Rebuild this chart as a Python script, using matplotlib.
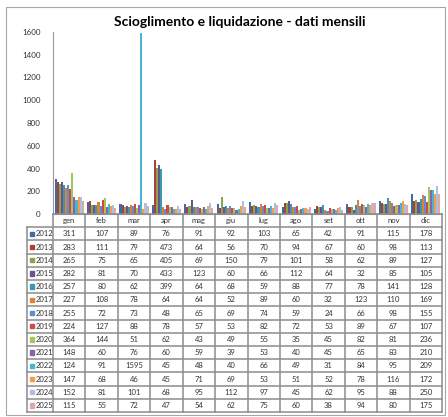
import matplotlib.pyplot as plt
from matplotlib.patches import Rectangle

plt.rcParams['font.family'] = ['Lato', 'DejaVu Sans']

months = ['gen', 'feb', 'mar', 'apr', 'mag', 'giu', 'lug', 'ago', 'set', 'ott', 'nov', 'dic']
years = ['2012', '2013', '2014', '2015', '2016', '2017', '2018',
         '2019', '2020', '2021', '2022', '2023', '2024', '2025']

v2012 = [311, 107, 89, 76, 91, 92, 103, 65, 42, 91, 115, 178]
v2013 = [283, 111, 79, 473, 64, 56, 70, 94, 67, 60, 98, 113]
v2014 = [265, 75, 65, 405, 69, 150, 79, 101, 58, 62, 89, 127]
v2015 = [282, 81, 70, 433, 123, 60, 66, 112, 64, 32, 85, 105]
v2016 = [257, 80, 62, 399, 64, 68, 59, 88, 77, 78, 141, 128]
v2017 = [227, 108, 78, 64, 64, 52, 89, 60, 32, 123, 110, 169]
v2018 = [255, 72, 73, 48, 65, 69, 74, 59, 24, 66, 98, 155]
v2019 = [224, 127, 88, 78, 57, 53, 82, 72, 53, 89, 67, 107]
v2020 = [364, 144, 51, 62, 43, 49, 55, 35, 45, 82, 81, 236]
v2021 = [148, 60, 76, 60, 59, 39, 53, 40, 45, 65, 83, 210]
v2022 = [124, 91, 1595, 45, 48, 40, 66, 49, 31, 84, 95, 209]
v2023 = [147, 68, 46, 45, 71, 69, 53, 51, 52, 78, 116, 172]
v2024 = [152, 81, 101, 68, 95, 112, 97, 45, 62, 95, 88, 250]
v2025 = [115, 55, 72, 47, 54, 62, 75, 60, 38, 94, 80, 175]

values = [v2012, v2013, v2014, v2015, v2016, v2017, v2018,
          v2019, v2020, v2021, v2022, v2023, v2024, v2025]

colors = ['#3F6AA6', '#A8403D', '#86A64A', '#6B5290', '#3C98B0', '#DD8235', '#5B8ED4',
          '#CC4B48', '#A4C65C', '#8466A6', '#4BB5CF', '#F99A4C', '#AFC0DE', '#DDAAAA']

W, H = 448, 417
fig = plt.figure(figsize=(W / 100, H / 100), dpi=100)
tc = '#333333'

# chart area frame
fig.add_artist(Rectangle((6 / W, 1 - 415 / H), (445 - 6) / W, (415 - 7) / H,
                         transform=fig.transFigure, fill=False, ec='#A6A6A6', lw=0.8))

fig.text(240 / W, 1 - 22 / H, 'Scioglimento e liquidazione - dati mensili',
         ha='center', va='center', fontsize=10, weight='bold')

ax = fig.add_axes([53 / W, 1 - 214 / H, (442 - 53) / W, (214 - 32) / H])
n = len(years)
bw = 0.9 / n
for j, (vals, c) in enumerate(zip(values, colors)):
    xs = [i + (j - (n - 1) / 2) * bw for i in range(len(months))]
    ax.bar(xs, vals, width=bw, color=c, linewidth=0)

ax.set_xlim(-0.5, 11.5)
ax.set_ylim(0, 1600)
ax.set_xticks([])
ax.set_yticks(range(0, 1601, 200))
ax.tick_params(axis='y', length=0, labelsize=5.8, pad=9, labelcolor=tc)
for s in ['top', 'right']:
    ax.spines[s].set_visible(False)
ax.spines['left'].set_color('#9A9A9A')
ax.spines['bottom'].set_color('#9A9A9A')

# data table under the chart
tax = fig.add_axes([53 / W, 1 - 412 / H, (442 - 53) / W, (412 - 214) / H])
tax.set_xlim(-0.5, 11.5)
tax.set_ylim(n + 1, 0)
tax.axis('off')
leg_left = -0.5 - 26 / 32.4
lc = '#8C8C8C'

for r in range(n + 2):
    x0 = -0.5 if r == 0 else leg_left
    tax.plot([x0, 11.5], [r, r], color=lc, lw=1.1, clip_on=False)
for c in range(len(months) + 1):
    tax.plot([c - 0.5, c - 0.5], [0, n + 1], color=lc, lw=1.1, clip_on=False)
tax.plot([leg_left, leg_left], [1, n + 1], color=lc, lw=1.1, clip_on=False)

for i, m in enumerate(months):
    tax.text(i, 0.5, m, ha='center', va='center', fontsize=5.5, color=tc)

for j, (y, vals, c) in enumerate(zip(years, values, colors)):
    r = j + 1
    tax.add_patch(Rectangle((leg_left + 0.09, r + 0.5 - 0.17), 0.13, 0.34,
                            color=c, clip_on=False))
    tax.text(leg_left + 0.27, r + 0.5, y, ha='left', va='center', fontsize=5.5, color=tc)
    for i, v in enumerate(vals):
        tax.text(i, r + 0.5, str(v), ha='center', va='center', fontsize=5.5, color=tc)

fig.savefig('out.png', dpi=100)
